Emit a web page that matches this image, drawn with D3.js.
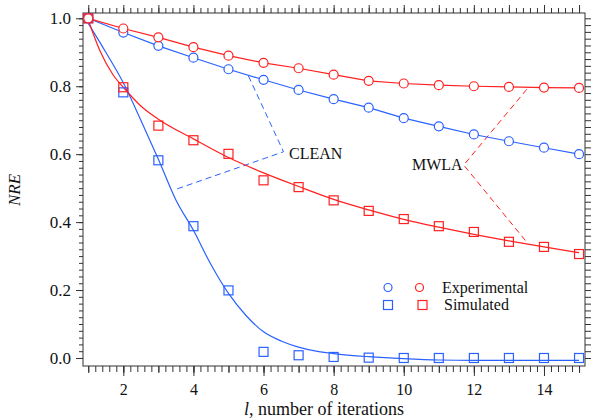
<!DOCTYPE html>
<html><head><meta charset="utf-8">
<script src="https://cdn.jsdelivr.net/npm/d3@7"></script>
<style>
body{margin:0;background:#fff;}
svg{display:block;font-family:"Liberation Serif","Times New Roman",serif;}
</style></head>
<body>
<svg id="c" width="591" height="420"></svg>
<script>
// ---- data ----
const iterations = [1,2,3,4,5,6,7,8,9,10,11,12,13,14,15];
const cleanExperimental = [1.0,0.958,0.919,0.884,0.850,0.819,0.789,0.762,0.737,0.706,0.682,0.658,0.638,0.619,0.600];
const mwlaExperimental  = [1.0,0.970,0.944,0.915,0.890,0.869,0.853,0.834,0.816,0.808,0.803,0.800,0.798,0.796,0.795];
const cleanSimulated    = [1.0,0.782,0.582,0.388,0.199,0.018,0.008,0.003,0.001,0.0,0.0,0.0,0.0,0.0,0.0];
const mwlaSimulated     = [1.0,0.797,0.684,0.641,0.601,0.523,0.503,0.464,0.433,0.409,0.388,0.371,0.342,0.327,0.306];
// fitted curves for the simulated data
const cleanFitX = [1,1.5,2,2.5,3,3.5,4,4.5,5,5.5,6,6.5,7,7.5,8,9,10,11,12,13,14,15];
const cleanFitY = [0.985,0.90,0.81,0.70,0.585,0.465,0.376,0.275,0.19,0.125,0.077,0.05,0.032,0.02,0.013,0.004,-0.002,-0.006,-0.007,-0.007,-0.007,-0.007];
const mwlaFitX = [1,1.33,1.71,2,2.5,3,4,5,6,7,8,9,10,11,12,13,14,15];
const mwlaFitY = [0.995,0.905,0.833,0.797,0.742,0.703,0.645,0.59,0.545,0.505,0.467,0.436,0.408,0.385,0.364,0.345,0.327,0.31];
// annotation pointer lines
const cleanPointer = [[5.57,0.830],[6.57,0.607],[3.43,0.494]];
const mwlaPointer  = [[13.51,0.791],[11.71,0.568],[13.54,0.337]];
const xTickLabels = [2,4,6,8,10,12,14];
const yTickLabels = [0.0,0.2,0.4,0.6,0.8,1.0];
const legendLabels = ["Experimental","Simulated"];

const BLUE = "#2a62ff", RED = "#ff2020", AX = "#333";
const svg = d3.select("#c");
const L=83, R=585, T=13, B=366;
const x = d3.scaleLinear().domain([0.85,15.17]).range([L,R]);
const y = d3.scaleLinear().domain([-0.0236,1.0156]).range([B,T]);

// frame
svg.append("rect").attr("x",L).attr("y",T).attr("width",R-L).attr("height",B-T)
  .attr("fill","none").attr("stroke",AX).attr("stroke-width",1);

function axisLayer(axisFn, scale, vals, size, tr){
  const g = svg.append("g").attr("transform",tr)
    .call(axisFn(scale).tickValues(vals).tickSize(size).tickFormat(""));
  g.select(".domain").remove();
  g.selectAll("line").attr("stroke",AX);
  return g;
}
const xMinor = d3.range(1,15.01,0.2).map(v=>+v.toFixed(2));
const xInt = d3.range(1,16,1);
const yMinor = d3.range(0,1.001,0.02).map(v=>+v.toFixed(2));
// bottom
axisLayer(d3.axisBottom,x,xMinor,6,`translate(0,${B})`);
axisLayer(d3.axisBottom,x,xInt,7,`translate(0,${B})`);
const gb = svg.append("g").attr("transform",`translate(0,${B})`)
  .call(d3.axisBottom(x).tickValues(xTickLabels).tickSize(10).tickPadding(8).tickFormat(d3.format("d")));
gb.select(".domain").remove();
gb.selectAll("line").attr("stroke",AX);
gb.selectAll("text").attr("font-size",16).attr("fill","#111").attr("font-family","Liberation Serif");
// top
axisLayer(d3.axisTop,x,xMinor,5,`translate(0,${T})`);
axisLayer(d3.axisTop,x,xInt,8,`translate(0,${T})`);
// left
axisLayer(d3.axisLeft,y,yMinor,4,`translate(${L},0)`);
const gl = svg.append("g").attr("transform",`translate(${L},0)`)
  .call(d3.axisLeft(y).tickValues(yTickLabels).tickSize(7).tickPadding(5).tickFormat(d3.format(".1f")));
gl.select(".domain").remove();
gl.selectAll("line").attr("stroke",AX);
gl.selectAll("text").attr("font-size",17).attr("fill","#111").attr("font-family","Liberation Serif");
// right
axisLayer(d3.axisRight,y,yMinor,6,`translate(${R},0)`);

// axis titles
svg.append("text").attr("transform",`translate(20,190) rotate(-90)`).attr("text-anchor","middle")
  .attr("font-size",17).attr("font-style","italic").attr("fill","#111").text("NRE");
const xt = svg.append("text").attr("x",324).attr("y",415).attr("text-anchor","middle")
  .attr("font-size",18).attr("fill","#111");
xt.append("tspan").attr("font-style","italic").text("l");
xt.append("tspan").text(", number of iterations");

const plot = svg.append("g");
const lineXY = d3.line().x(d=>x(d[0])).y(d=>y(d[1]));
const smooth = d3.line().x(d=>x(d[0])).y(d=>y(d[1])).curve(d3.curveMonotoneX);

// pointer lines
plot.append("path").datum(cleanPointer).attr("d",lineXY).attr("fill","none")
  .attr("stroke",BLUE).attr("stroke-width",1).attr("stroke-dasharray","6,4");
plot.append("path").datum(mwlaPointer).attr("d",lineXY).attr("fill","none")
  .attr("stroke",RED).attr("stroke-width",1).attr("stroke-dasharray","6,4");

// lines
plot.append("path").datum(cleanFitX.map((v,i)=>[v,cleanFitY[i]])).attr("d",smooth)
  .attr("fill","none").attr("stroke",BLUE).attr("stroke-width",1.2);
plot.append("path").datum(mwlaFitX.map((v,i)=>[v,mwlaFitY[i]])).attr("d",smooth)
  .attr("fill","none").attr("stroke",RED).attr("stroke-width",1.2);
plot.append("path").datum(iterations.map((v,i)=>[v,cleanExperimental[i]])).attr("d",lineXY)
  .attr("fill","none").attr("stroke",BLUE).attr("stroke-width",1.2);
plot.append("path").datum(iterations.map((v,i)=>[v,mwlaExperimental[i]])).attr("d",lineXY)
  .attr("fill","none").attr("stroke",RED).attr("stroke-width",1.2);

// markers
function squares(vals,col){
  plot.append("g").selectAll("rect").data(iterations.map((v,i)=>[v,vals[i]])).join("rect")
    .attr("x",d=>x(d[0])-4.5).attr("y",d=>y(d[1])-4.5).attr("width",9).attr("height",9)
    .attr("fill","none").attr("stroke",col).attr("stroke-width",1.2);
}
function circles(vals,col){
  plot.append("g").selectAll("circle").data(iterations.map((v,i)=>[v,vals[i]])).join("circle")
    .attr("cx",d=>x(d[0])).attr("cy",d=>y(d[1])).attr("r",4.5)
    .attr("fill","#fff").attr("stroke",col).attr("stroke-width",1.2);
}
squares(cleanSimulated,BLUE);
squares(mwlaSimulated,RED);
circles(cleanExperimental,BLUE);
circles(mwlaExperimental,RED);

// annotation labels
svg.append("text").attr("x",289).attr("y",159).attr("font-size",16).attr("fill","#111").text("CLEAN");
svg.append("text").attr("x",412).attr("y",170).attr("font-size",16).attr("fill","#111").text("MWLA");

// legend
const lg = svg.append("g");
lg.append("circle").attr("cx",388).attr("cy",287.5).attr("r",4).attr("fill","none").attr("stroke",BLUE).attr("stroke-width",1.2);
lg.append("circle").attr("cx",419.5).attr("cy",287.5).attr("r",4).attr("fill","none").attr("stroke",RED).attr("stroke-width",1.2);
lg.append("rect").attr("x",383.5).attr("y",300.5).attr("width",9).attr("height",9).attr("fill","none").attr("stroke",BLUE).attr("stroke-width",1.2);
lg.append("rect").attr("x",418).attr("y",300.5).attr("width",9).attr("height",9).attr("fill","none").attr("stroke",RED).attr("stroke-width",1.2);
lg.append("text").attr("x",442).attr("y",292.5).attr("font-size",16).attr("fill","#111").text(legendLabels[0]);
lg.append("text").attr("x",444).attr("y",310).attr("font-size",16).attr("fill","#111").text(legendLabels[1]);
</script>
</body></html>
